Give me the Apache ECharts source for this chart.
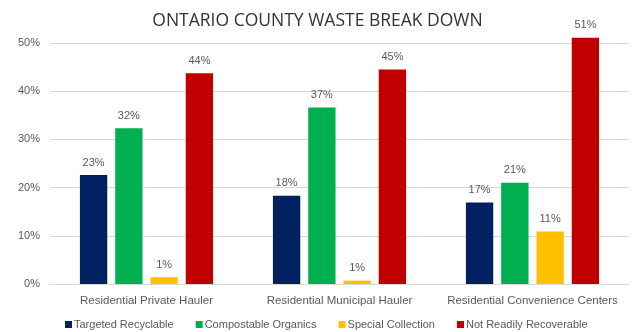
<!DOCTYPE html>
<html>
<head>
<meta charset="utf-8">
<script src="https://cdn.jsdelivr.net/npm/echarts@6/dist/echarts.min.js"></script>
<style>
  html, body { margin: 0; padding: 0; background: #fff; }
  #chart { width: 635px; height: 332px; }
</style>
</head>
<body>
<div id="chart"></div>
<script>
// categories + series (percent)
const categories = ['Residential Private Hauler', 'Residential Municipal Hauler', 'Residential Convenience Centers']
const seriesNames = ['Targeted Recyclable', 'Compostable Organics', 'Special Collection', 'Not Readily Recoverable']
const targetedRecyclable = [22.6, 18.3, 16.9]
const compostableOrganics = [32.3, 36.6, 21.0]
const specialCollection = [1.4, 0.7, 10.9]
const notReadilyRecoverable = [43.7, 44.5, 51.1]
const colors = ['#002060', '#00B050', '#FFC000', '#C00000']

const chart = echarts.init(document.getElementById('chart'))
const labelFont = 'Liberation Sans, Arial, sans-serif'

const makeSeries = (name, data, i) => ({
  name: name,
  type: 'bar',
  data: data,
  clip: false,
  barGap: '29%',
  barCategoryGap: '31%',
  itemStyle: { color: colors[i] },
  label: {
    show: true,
    position: 'top',
    distance: 7,
    color: '#595959',
    fontSize: 11,
    fontFamily: labelFont,
    formatter: p => Math.round(p.value) + '%'
  }
})

const option = {
  animation: false,
  backgroundColor: '#fff',
  title: {
    text: 'ONTARIO COUNTY WASTE BREAK DOWN',
    left: 'center',
    top: 7,
    textStyle: {
      color: '#333333',
      fontSize: 17.5,
      fontWeight: 'normal',
      fontFamily: 'Open Sans, sans-serif'
    }
  },
  grid: { left: 50, right: 6, top: 43, bottom: 48 },
  legend: {
    top: 314,
    left: 60,
    icon: 'rect',
    itemWidth: 7,
    itemHeight: 7,
    itemGap: 22,
    textStyle: { color: '#595959', fontSize: 11, fontFamily: labelFont, padding: [0, 0, 0, -3] },
    data: seriesNames
  },
  xAxis: {
    type: 'category',
    data: categories,
    axisTick: { show: false },
    axisLine: { lineStyle: { color: '#d9d9d9' } },
    axisLabel: { color: '#595959', fontSize: 11.5, fontFamily: labelFont, margin: 11, interval: 0 }
  },
  yAxis: {
    type: 'value',
    min: 0,
    max: 50,
    interval: 10,
    axisLine: { show: false },
    axisTick: { show: false },
    splitLine: { lineStyle: { color: '#d9d9d9' } },
    axisLabel: { color: '#595959', fontSize: 11, fontFamily: labelFont, margin: 10, formatter: '{value}%' }
  },
  series: [
    makeSeries(seriesNames[0], targetedRecyclable, 0),
    makeSeries(seriesNames[1], compostableOrganics, 1),
    makeSeries(seriesNames[2], specialCollection, 2),
    makeSeries(seriesNames[3], notReadilyRecoverable, 3)
  ]
}
chart.setOption(option)
</script>
</body>
</html>
